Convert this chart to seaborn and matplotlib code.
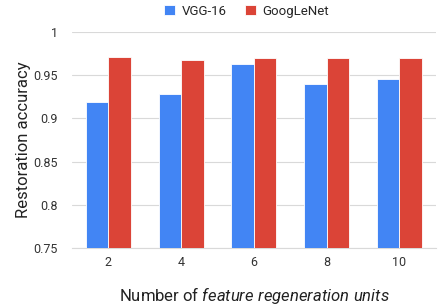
import pandas as pd
import matplotlib
matplotlib.use("Agg")
import matplotlib.pyplot as plt
import seaborn as sns

units = ["2", "4", "6", "8", "10"]
vgg16 = [0.919, 0.928, 0.963, 0.940, 0.946]
googlenet = [0.971, 0.968, 0.970, 0.970, 0.970]
models = ["VGG-16", "GoogLeNet"]
colors = ["#4285F4", "#DB4437"]
y_ticks = [0.75, 0.8, 0.85, 0.9, 0.95, 1.0]
y_tick_labels = ["0.75", "0.8", "0.85", "0.9", "0.95", "1"]

df = pd.DataFrame({
    "units": units * 2,
    "model": [models[0]] * len(units) + [models[1]] * len(units),
    "acc": vgg16 + googlenet,
})

sns.set_style("white")
plt.rcParams["font.family"] = ["Roboto", "DejaVu Sans"]
plt.rcParams["mathtext.fontset"] = "custom"
plt.rcParams["mathtext.rm"] = "Roboto"
plt.rcParams["mathtext.it"] = "Roboto:italic"

fig = plt.figure(figsize=(4.47, 3.05), dpi=100)
ax = fig.add_axes([0.161, 0.187, 0.814, 0.708])

sns.barplot(data=df, x="units", y="acc", hue="model", palette=colors,
            saturation=1, width=0.62, ax=ax, edgecolor="white", linewidth=0.6,
            legend=True, zorder=3)

ax.set_ylim(0.75, 1.0)
ax.set_yticks(y_ticks)
ax.set_yticklabels(y_tick_labels)
ax.grid(axis="y", color="#d9d9d9", linewidth=0.8, zorder=0)
ax.set_axisbelow(True)
for s in ["top", "right", "left"]:
    ax.spines[s].set_visible(False)
ax.spines["bottom"].set_color("#d9d9d9")
ax.tick_params(axis="both", length=0, labelsize=9, colors="#333333")
ax.tick_params(axis="x", pad=6)
ax.tick_params(axis="y", pad=10)

ax.set_ylabel("Restoration accuracy", fontsize=12, color="#222222", labelpad=2)
ax.set_xlabel("Number of $\\it{feature\\ regeneration\\ units}$", fontsize=12,
              color="#222222", labelpad=11)

ax.legend(loc="lower center", bbox_to_anchor=(0.48, 1.01), ncol=2, frameon=False,
          fontsize=9.5, handlelength=0.8, handleheight=0.8, columnspacing=1.4,
          handletextpad=0.5)

fig.savefig("out.png", dpi=100)
